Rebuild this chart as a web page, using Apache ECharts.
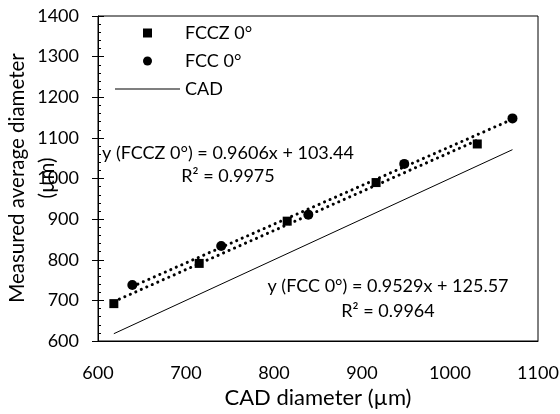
<!DOCTYPE html>
<html>
<head>
<meta charset="utf-8">
<script src="https://cdn.jsdelivr.net/npm/echarts@6/dist/echarts.min.js"></script>
<style>
  html, body { margin: 0; padding: 0; background: #fff; }
  #chart { width: 560px; height: 414px; }
</style>
</head>
<body>
<div id="chart"></div>
<script>
// values
var fcczPoints = [[618, 692], [715, 791], [815, 895], [916, 990], [1031, 1085]];
var fccPoints = [[639, 738], [740, 834], [839, 911], [948, 1036], [1071, 1148]];
var cadLine = [[618, 618], [1071, 1071]];
// trendline ends (dotted)
var fcczTrend = [[618, 697], [1031, 1094]];
var fccTrend = [[639, 734], [1071, 1146]];

var eqFccz = ['y (FCCZ 0°) = 0.9606x + 103.44', 'R² = 0.9975'];
var eqFcc = ['y (FCC 0°) = 0.9529x + 125.57', 'R² = 0.9964'];
var yTitle = ['Measured average diameter', '(µm)'];

var font = 'Lato';
var chart = echarts.init(document.getElementById('chart'));

var trendStyle = {
  color: '#000',
  width: 3,
  type: [0.1, 5.9],
  cap: 'round'
};

function plain(v) { return String(v); }

chart.setOption({
  animation: false,
  textStyle: { fontFamily: font, color: '#000' },
  grid: {
    left: 98, right: 22, top: 16, bottom: 73,
    outerBoundsMode: 'none', containLabel: false,
    show: true, borderColor: '#000', borderWidth: 1
  },
  legend: {
    orient: 'vertical',
    left: 110, top: 19,
    itemWidth: 65, itemHeight: 9,
    itemGap: 10, itemTextGap: 11,
    textStyle: { fontFamily: font, fontSize: 18, color: '#000' },
    data: [
      { name: 'FCCZ 0°', icon: 'path://M0,0L1,0L1,1L0,1Z' },
      { name: 'FCC 0°', icon: 'circle' },
      { name: 'CAD', icon: 'path://M0,0L65,0L65,1L0,1Z' }
    ]
  },
  xAxis: {
    type: 'value', min: 600, max: 1100, interval: 100,
    name: 'CAD diameter (µm)', nameLocation: 'middle', nameGap: 42,
    nameTextStyle: { fontFamily: font, fontSize: 22, color: '#000' },
    axisLine: { lineStyle: { color: '#000' } },
    axisTick: { show: false },
    axisLabel: { fontFamily: font, fontSize: 18, color: '#000', margin: 23, formatter: plain },
    splitLine: { show: false }
  },
  yAxis: [{
    type: 'value', min: 600, max: 1400, interval: 100,
    axisLine: { lineStyle: { color: '#000' } },
    axisTick: { show: true, length: 6, lineStyle: { color: '#000' } },
    axisLabel: { fontFamily: font, fontSize: 18, color: '#000', margin: 19, formatter: plain },
    splitLine: { show: false }
  }, {
    type: 'value', min: 600, max: 1400, interval: 100, position: 'left',
    axisLine: { show: false },
    axisTick: { show: true, inside: true, length: 6, lineStyle: { color: '#000' } },
    minorTick: { show: true, splitNumber: 5, length: 3, lineStyle: { color: '#000' } },
    axisLabel: { show: false },
    splitLine: { show: false }
  }],
  graphic: [
    { type: 'text', x: 17, y: 178, rotation: Math.PI / 2,
      style: { text: yTitle[0], font: '20.5px ' + font, fill: '#000', align: 'center', verticalAlign: 'middle' } },
    { type: 'text', x: 47, y: 178, rotation: Math.PI / 2,
      style: { text: yTitle[1], font: '20.5px ' + font, fill: '#000', align: 'center', verticalAlign: 'middle' } },
    { type: 'text', x: 228, y: 142,
      style: { text: eqFccz.join('\n'), font: '18px ' + font, fill: '#000', align: 'center', lineHeight: 23 } },
    { type: 'text', x: 388, y: 274,
      style: { text: eqFcc.join('\n'), font: '18px ' + font, fill: '#000', align: 'center', lineHeight: 25 } }
  ],
  series: [
    { name: 'trendFCCZ', type: 'line', data: fcczTrend, symbol: 'none', lineStyle: trendStyle, silent: true, z: 1 },
    { name: 'trendFCC', type: 'line', data: fccTrend, symbol: 'none', lineStyle: trendStyle, silent: true, z: 1 },
    { name: 'CAD', type: 'line', data: cadLine, symbol: 'none', itemStyle: { color: '#000' },
      lineStyle: { color: '#000', width: 1 }, z: 2 },
    { name: 'FCCZ 0°', type: 'scatter', data: fcczPoints, symbol: 'rect', symbolSize: 9,
      itemStyle: { color: '#000', opacity: 1 }, z: 3 },
    { name: 'FCC 0°', type: 'scatter', data: fccPoints, symbol: 'circle', symbolSize: 10,
      itemStyle: { color: '#000', opacity: 1 }, z: 3 }
  ]
});
</script>
</body>
</html>
